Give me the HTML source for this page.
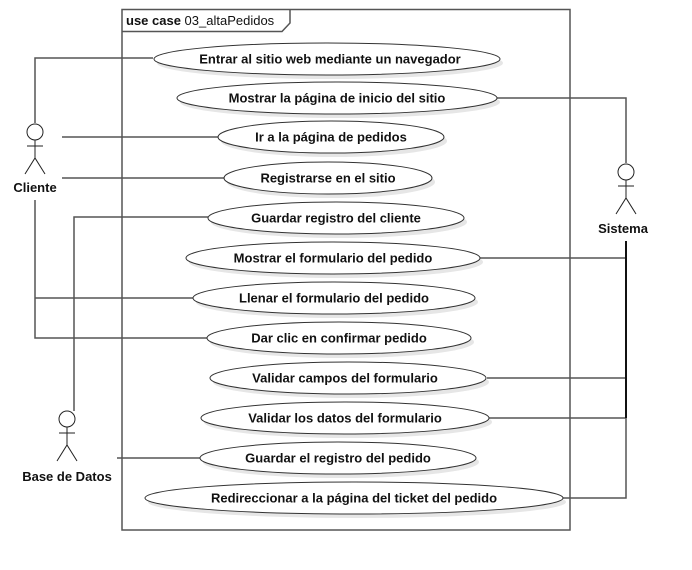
<!DOCTYPE html>
<html><head><style>html,body{margin:0;padding:0;background:#fff}svg{display:block}</style></head>
<body>
<svg width="692" height="570" xmlns="http://www.w3.org/2000/svg" font-family="Liberation Sans, Arial, sans-serif">
<g stroke="#555" stroke-width="1.5" fill="none">
  <rect x="122" y="9.5" width="448" height="520.5"/>
  <path d="M122 31.5 H282 L290 23 V9.5"/>
  <path d="M35 123 V58 H153"/>
  <path d="M62 137 H218"/>
  <path d="M62 178 H225"/>
  <path d="M35 200 V338 H208 M35 298 H193"/>
  <path d="M74 411 V217 H208"/>
  <path d="M117 458 H201"/>
  <path d="M497 98 H626 V163"/>
  <path d="M480 258 H626 M487 378 H626 M489 418 H626 M563 498 H626 V418"/>
</g>
<path d="M626 241 V418" stroke="#111" stroke-width="2"/>
<text x="126" y="25" font-size="13" fill="#111"><tspan font-weight="bold">use case</tspan> 03_altaPedidos</text>
<g font-size="13" font-weight="bold" fill="#111" text-anchor="middle">
<g fill="#e6e6e6" stroke="none">
  <ellipse cx="330" cy="63" rx="173" ry="16"/>
  <ellipse cx="340" cy="102" rx="160" ry="16"/>
  <ellipse cx="334" cy="141" rx="113" ry="16"/>
  <ellipse cx="331" cy="182" rx="104" ry="16"/>
  <ellipse cx="339" cy="222" rx="128" ry="16"/>
  <ellipse cx="336" cy="262" rx="147" ry="16"/>
  <ellipse cx="337" cy="302" rx="141" ry="16"/>
  <ellipse cx="342" cy="342" rx="132" ry="16"/>
  <ellipse cx="351" cy="382" rx="138" ry="16"/>
  <ellipse cx="348" cy="422" rx="144" ry="16"/>
  <ellipse cx="341" cy="462" rx="138" ry="16"/>
  <ellipse cx="357" cy="502" rx="209" ry="16"/>
</g>
<g fill="#fff" stroke="#333" stroke-width="1">
  <ellipse cx="327" cy="59" rx="173" ry="16"/>
  <ellipse cx="337" cy="98" rx="160" ry="16"/>
  <ellipse cx="331" cy="137" rx="113" ry="16"/>
  <ellipse cx="328" cy="178" rx="104" ry="16"/>
  <ellipse cx="336" cy="218" rx="128" ry="16"/>
  <ellipse cx="333" cy="258" rx="147" ry="16"/>
  <ellipse cx="334" cy="298" rx="141" ry="16"/>
  <ellipse cx="339" cy="338" rx="132" ry="16"/>
  <ellipse cx="348" cy="378" rx="138" ry="16"/>
  <ellipse cx="345" cy="418" rx="144" ry="16"/>
  <ellipse cx="338" cy="458" rx="138" ry="16"/>
  <ellipse cx="354" cy="498" rx="209" ry="16"/>
</g>
<text x="330" y="63.5">Entrar al sitio web mediante un navegador</text>
<text x="337" y="102.5">Mostrar la página de inicio del sitio</text>
<text x="331" y="141.5">Ir a la página de pedidos</text>
<text x="328" y="182.5">Registrarse en el sitio</text>
<text x="336" y="222.5">Guardar registro del cliente</text>
<text x="333" y="262.5">Mostrar el formulario del pedido</text>
<text x="334" y="302.5">Llenar el formulario del pedido</text>
<text x="339" y="342.5">Dar clic en confirmar pedido</text>
<text x="345" y="382.5">Validar campos del formulario</text>
<text x="345" y="422.5">Validar los datos del formulario</text>
<text x="338" y="462.5">Guardar el registro del pedido</text>
<text x="354" y="502.5">Redireccionar a la página del ticket del pedido</text>
</g>
<g stroke="#222" stroke-width="1" fill="#fff">
  <circle cx="35" cy="132" r="8"/>
  <path d="M35 140 V158 M27 146 H43 M25 174 L35 158 L45 174"/>
  <circle cx="67" cy="419" r="8"/>
  <path d="M67 427 V445 M59 433 H75 M57 461 L67 445 L77 461"/>
  <circle cx="626" cy="172" r="8"/>
  <path d="M626 180 V198 M618 186 H634 M616 214 L626 198 L636 214"/>
</g>
<g font-size="13" font-weight="bold" fill="#111" text-anchor="middle">
  <text x="35" y="192">Cliente</text>
  <text x="67" y="481">Base de Datos</text>
  <text x="623" y="233">Sistema</text>
</g>
</svg>
</body></html>
